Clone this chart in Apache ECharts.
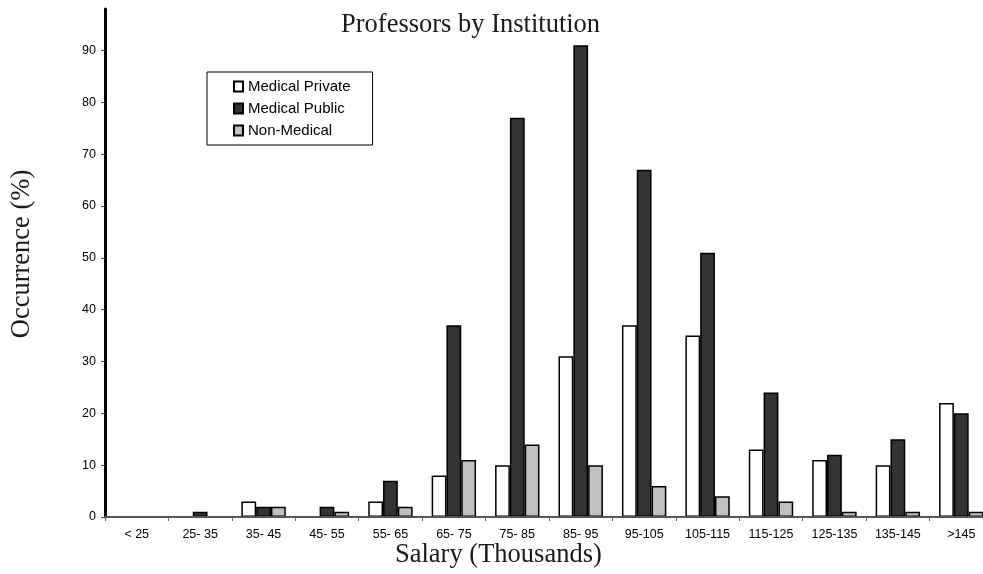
<!DOCTYPE html>
<html>
<head>
<meta charset="utf-8">
<style>html,body{margin:0;padding:0;background:#fff}#c{width:983px;height:574px}</style>
<script src="https://cdn.jsdelivr.net/npm/echarts@6/dist/echarts.min.js"></script>
</head>
<body>
<div id="c"></div>
<script>
const categories = ['< 25','25- 35','35- 45','45- 55','55- 65','65- 75','75- 85','85- 95','95-105','105-115','115-125','125-135','135-145','>145'];
const medicalPrivate = [0,0,3,0,3,8,10,31,37,35,13,11,10,22];
const medicalPublic  = [0,1,2,2,7,37,77,91,67,51,24,12,15,20];
const nonMedical     = [0,0,2,1,2,11,14,10,6,4,3,1,1,1];
const yTicks = [0,10,20,30,40,50,60,70,80,90];

const chart = echarts.init(document.getElementById('c'), null, {renderer:'canvas'});
const sans = 'Liberation Sans, Arial, sans-serif';
const serif = 'Liberation Serif, Times New Roman, serif';
function bar(name, data, color){
  return {type:'bar', name, data, barGap:'0%', barCategoryGap:'30%',
    itemStyle:{color, borderColor:'#000', borderWidth:1.5}, animation:false};
}
chart.setOption({
  animation:false,
  title:{text:'Professors by Institution', left:341, top:12, padding:0,
    textStyle:{fontFamily:serif, fontSize:26.5, fontWeight:'normal', color:'#1a1a1a'}},
  legend:{orient:'vertical', left:207, top:72, padding:[7,22,7,26], itemGap:7,
    itemWidth:9, itemHeight:10, icon:'rect', borderColor:'#000', borderWidth:1,
    textStyle:{fontFamily:sans, fontSize:15, color:'#000'},
    data:['Medical Private','Medical Public','Non-Medical']},
  grid:{left:105, width:888, top:9, bottom:57, containLabel:false, outerBoundsMode:'none'},
  xAxis:{type:'category', data:categories, boundaryGap:true, z:5,
    axisLine:{lineStyle:{color:'#555', width:2}},
    axisTick:{show:true, interval:0, length:4, lineStyle:{color:'#666'}},
    axisLabel:{interval:0, fontFamily:sans, fontSize:12.5, color:'#000', margin:11}},
  yAxis:{type:'value', min:0, max:98, interval:10,
    axisLine:{show:true, lineStyle:{color:'#000', width:3}},
    axisTick:{show:true, length:4, customValues:yTicks, lineStyle:{color:'#444'}},
    axisLabel:{customValues:yTicks, fontFamily:sans, fontSize:12.5, color:'#000', margin:9},
    splitLine:{show:false}},
  graphic:[
    {type:'text', left:395, top:542,
      style:{text:'Salary (Thousands)', font:'26.5px '+serif, fill:'#1a1a1a'}},
    {type:'text', x:22, y:254, rotation:Math.PI/2,
      style:{text:'Occurrence (%)', font:'26.5px '+serif, fill:'#1a1a1a', align:'center', verticalAlign:'middle'}}
  ],
  series:[
    bar('Medical Private', medicalPrivate, '#ffffff'),
    bar('Medical Public', medicalPublic, '#333333'),
    bar('Non-Medical', nonMedical, '#c0c0c0')
  ]
});
</script>
</body>
</html>
